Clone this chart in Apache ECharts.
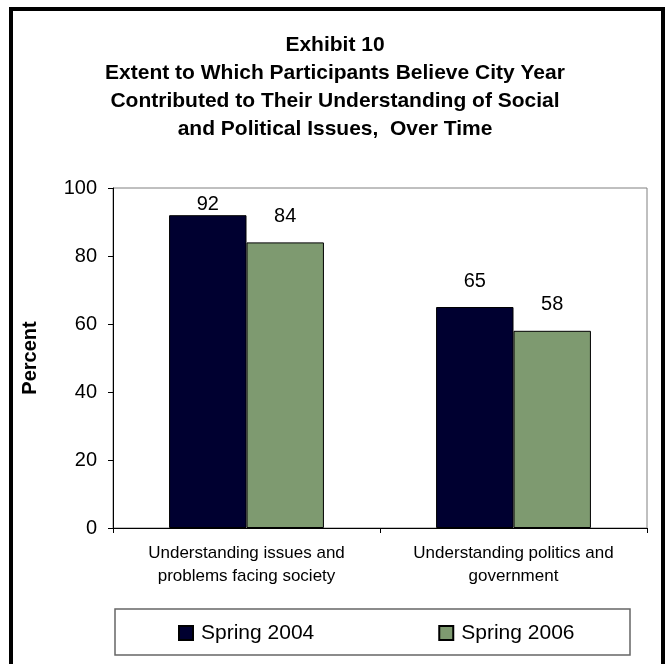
<!DOCTYPE html>
<html>
<head>
<meta charset="utf-8">
<script src="https://cdn.jsdelivr.net/npm/echarts@6/dist/echarts.min.js"></script>
<style>
html,body{margin:0;padding:0;background:#fff;}
#c{width:670px;height:664px;}
</style>
</head>
<body>
<div id="c"></div>
<script>
const titleLines = [
  'Exhibit 10',
  'Extent to Which Participants Believe City Year',
  'Contributed to Their Understanding of Social',
  'and Political Issues,  Over Time'
];
const categories = [
  'Understanding issues and\nproblems facing society',
  'Understanding politics and\ngovernment'
];
const seriesNames = ['Spring 2004', 'Spring 2006'];
const spring2004 = [92, 65];
const spring2006 = [84, 58];
const yTicks = [0, 20, 40, 60, 80, 100];
const yAxisName = 'Percent';

const FONT = '"Liberation Sans", Arial, sans-serif';
const chart = echarts.init(document.getElementById('c'), null, {renderer: 'canvas'});

function withLabels(values) {
  return values.map((v) => {
    const d = {value: v};
    if (v >= 90) d.label = {distance: 1};
    return d;
  });
}

chart.setOption({
  animation: false,
  backgroundColor: '#fff',
  textStyle: {fontFamily: FONT},
  title: {
    text: titleLines.join('\n'),
    left: 'center',
    top: 26,
    textStyle: {fontFamily: FONT, fontSize: 21, fontWeight: 'bold', color: '#000', lineHeight: 28}
  },
  grid: {left: 113, top: 188, right: 23, bottom: 136, show: true, borderColor: '#808080', borderWidth: 1, containLabel: false},
  legend: {
    data: seriesNames,
    left: 178,
    top: 622,
    padding: 0,
    itemWidth: 14,
    itemHeight: 14,
    itemGap: 124,
    icon: 'rect',
    textStyle: {fontFamily: FONT, fontSize: 21, color: '#000', lineHeight: 22, padding: [0, 0, 0, 3]}
  },
  xAxis: {
    type: 'category',
    data: categories,
    axisLine: {lineStyle: {color: '#000', width: 1}},
    axisTick: {show: true, length: 5, lineStyle: {color: '#000'}},
    axisLabel: {fontFamily: FONT, fontSize: 17, color: '#000', lineHeight: 23, margin: 14, interval: 0}
  },
  yAxis: {
    type: 'value',
    min: yTicks[0],
    max: yTicks[yTicks.length - 1],
    interval: 20,
    name: yAxisName,
    nameLocation: 'middle',
    nameRotate: 90,
    nameGap: 73,
    nameTextStyle: {fontFamily: FONT, fontSize: 20, fontWeight: 'bold', color: '#000'},
    axisLine: {show: true, lineStyle: {color: '#000', width: 1}},
    axisTick: {show: true, length: 5, lineStyle: {color: '#000'}},
    axisLabel: {fontFamily: FONT, fontSize: 20, color: '#000', margin: 16},
    splitLine: {show: false}
  },
  series: [
    {
      name: seriesNames[0],
      type: 'bar',
      data: withLabels(spring2004),
      barGap: '0%',
      barCategoryGap: '42%',
      itemStyle: {color: '#000030', borderColor: '#000', borderWidth: 1},
      label: {show: true, position: 'top', distance: 16, fontFamily: FONT, fontSize: 20, color: '#000'}
    },
    {
      name: seriesNames[1],
      type: 'bar',
      data: withLabels(spring2006),
      barGap: '0%',
      barCategoryGap: '42%',
      itemStyle: {color: '#7E9A70', borderColor: '#000', borderWidth: 1},
      label: {show: true, position: 'top', distance: 16, fontFamily: FONT, fontSize: 20, color: '#000'}
    }
  ],
  graphic: [
    {type: 'rect', z: -1, shape: {x: 115, y: 609, width: 515, height: 46}, style: {fill: '#fff', stroke: '#666', lineWidth: 1.5}},
    {type: 'rect', z: 100, shape: {x: 11, y: 9, width: 652, height: 680}, style: {fill: 'none', stroke: '#000', lineWidth: 4}}
  ]
});
</script>
</body>
</html>
